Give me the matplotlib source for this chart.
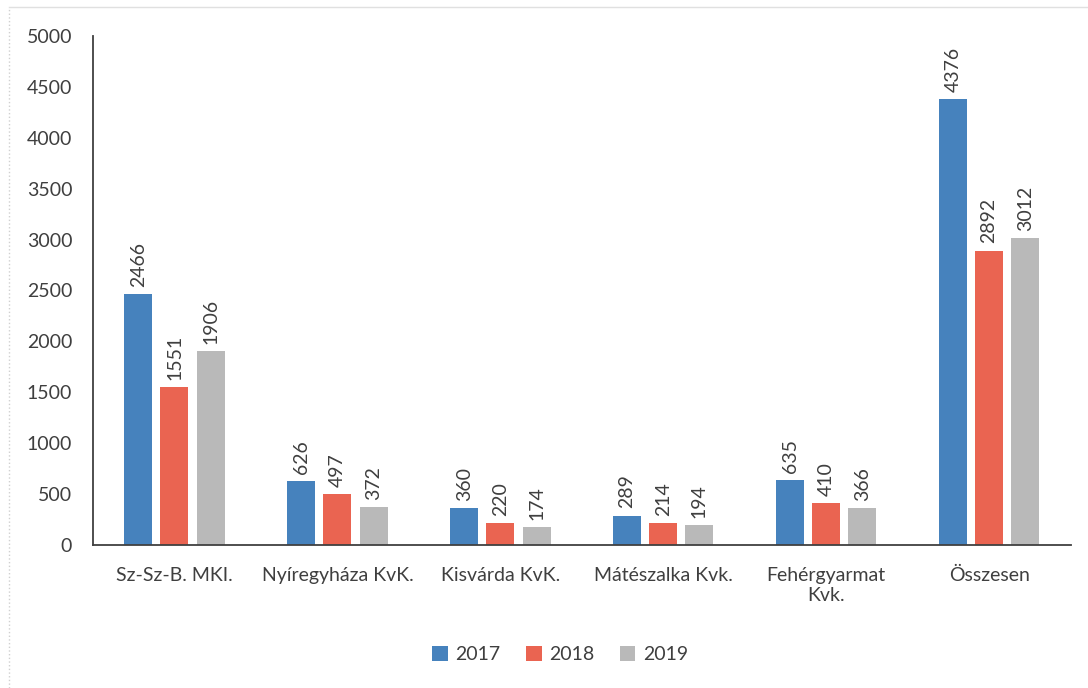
import matplotlib.pyplot as plt
import numpy as np

categories = ["Sz-Sz-B. MKI.", "Nyíregyháza KvK.", "Kisvárda KvK.",
              "Mátészalka Kvk.", "Fehérgyarmat\nKvk.", "Összesen"]
years = ["2017", "2018", "2019"]
v2017 = [2466, 626, 360, 289, 635, 4376]
v2018 = [1551, 497, 220, 214, 410, 2892]
v2019 = [1906, 372, 174, 194, 366, 3012]

colors = ["#4682bd", "#ea6451", "#b9b9b9"]
txt = "#3f3f3f"

plt.rcParams['font.family'] = ['Lato', 'DejaVu Sans']

fig = plt.figure(figsize=(10.88, 6.88), dpi=100)
ax = fig.add_axes([0.0855, 0.2078, 0.8985, 0.74])

x = np.arange(len(categories))
w = 0.172
step = 0.222
for i, (vals, yr) in enumerate(zip([v2017, v2018, v2019], years)):
    pos = x + (i - 1) * step
    bars = ax.bar(pos, vals, width=w, color=colors[i], label=yr)
    for b, v in zip(bars, vals):
        ax.text(b.get_x() + b.get_width() / 2, v + 70, str(v), rotation=90,
                ha="center", va="bottom", fontsize=14, color=txt)

ax.set_xlim(-0.5, len(categories) - 0.5)
ax.set_ylim(0, 5000)
ax.set_yticks(range(0, 5001, 500))
ax.set_xticks(x)
ax.set_xticklabels(categories)
ax.tick_params(axis="both", length=0, labelsize=14, colors=txt)
ax.tick_params(axis="x", pad=16)
ax.tick_params(axis="y", pad=15)
for s in ["top", "right"]:
    ax.spines[s].set_visible(False)
ax.spines["left"].set_color("#404040")
ax.spines["bottom"].set_color("#404040")
ax.spines["left"].set_linewidth(1.3)
ax.spines["bottom"].set_linewidth(1.3)

ax.legend(loc="center", bbox_to_anchor=(0.478, -0.215), ncol=3, frameon=False,
          fontsize=14, handlelength=0.8, handleheight=0.8, handletextpad=0.4,
          columnspacing=1.3, labelcolor=txt)

# faint scan frame
fig.add_artist(plt.Line2D([0.008, 0.008], [0.0, 0.99], color="#d0d0d0",
                          lw=1, ls=":", transform=fig.transFigure))
fig.add_artist(plt.Line2D([0.008, 1.0], [0.99, 0.99], color="#e0e0e0",
                          lw=1, transform=fig.transFigure))

fig.savefig("out.png", dpi=100)
